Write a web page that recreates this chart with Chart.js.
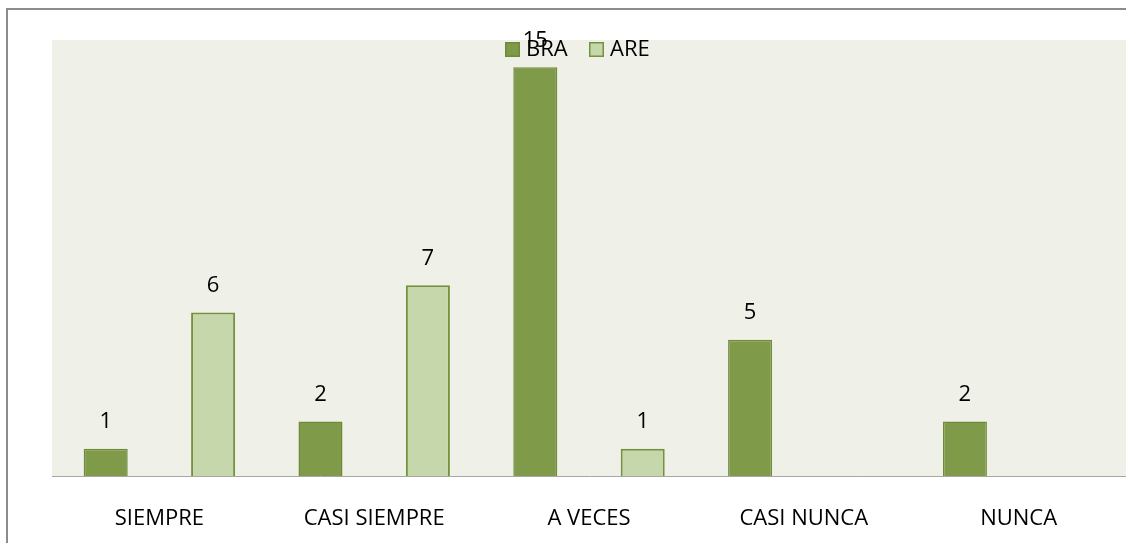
<!DOCTYPE html>
<html><head><meta charset="utf-8">
<script src="https://cdn.jsdelivr.net/npm/chart.js@4"></script>
<style>html,body{margin:0;padding:0;background:#fff;}#wrap{width:1126px;height:543px;position:relative;}</style>
</head><body><div id="wrap"><canvas id="c" width="1126" height="543"></canvas></div>
<script>
const categories = ["SIEMPRE", "CASI SIEMPRE", "A VECES", "CASI NUNCA", "NUNCA"];
const braValues = [1, 2, 15, 5, 2];
const areValues = [6, 7, 1, null, null];
const seriesNames = ["BRA", "ARE"];

const FONT = {family: "'Open Sans', sans-serif", size: 22};
const COL_BRA = "#7F9A48", COL_BRA_B = "#6F8A3B";
const COL_ARE = "#C6D7AB", COL_ARE_B = "#76913E";

const deco = {
  id: 'deco',
  beforeDraw(chart) {
    const {ctx, chartArea: a} = chart;
    ctx.save();
    ctx.fillStyle = '#EFF1E8';
    ctx.fillRect(a.left, a.top, a.right - a.left, a.bottom - a.top);
    ctx.strokeStyle = '#8C8C8C';
    ctx.lineWidth = 2;
    ctx.beginPath();
    ctx.moveTo(7, 543); ctx.lineTo(7, 9); ctx.lineTo(1126, 9);
    ctx.stroke();
    ctx.restore();
  },
  afterDatasetsDraw(chart) {
    const {ctx} = chart;
    ctx.save();
    ctx.font = `${FONT.size}px ${FONT.family}`;
    ctx.fillStyle = '#000';
    ctx.textAlign = 'center';
    ctx.textBaseline = 'middle';
    chart.data.datasets.forEach((ds, i) => {
      chart.getDatasetMeta(i).data.forEach((bar, j) => {
        const v = ds.data[j];
        if (v === null || v === undefined) return;
        ctx.fillText(String(v), bar.x, bar.y - 27);
      });
    });
    // legend
    const items = [[COL_BRA, COL_BRA_B, seriesNames[0], 505], [COL_ARE, COL_ARE_B, seriesNames[1], 589]];
    ctx.textAlign = 'left';
    items.forEach(([f, b, t, x]) => {
      ctx.fillStyle = f; ctx.fillRect(x, 42, 15, 15);
      ctx.strokeStyle = b; ctx.lineWidth = 1.5; ctx.strokeRect(x + 0.75, 42.75, 13.5, 13.5);
      ctx.fillStyle = '#000'; ctx.fillText(t, x + 21, 50);
    });
    ctx.restore();
  }
};

new Chart(document.getElementById('c'), {
  type: 'bar',
  data: {
    labels: categories,
    datasets: [
      {label: seriesNames[0], data: braValues, backgroundColor: COL_BRA, borderColor: COL_BRA_B, borderWidth: 1.5},
      {label: seriesNames[1], data: areValues, backgroundColor: COL_ARE, borderColor: COL_ARE_B, borderWidth: 2}
    ]
  },
  options: {
    responsive: false,
    animation: false,
    devicePixelRatio: 1,
    layout: {padding: {left: 52, top: 40, right: 0, bottom: 0}},
    datasets: {bar: {categoryPercentage: 1.0, barPercentage: 0.41}},
    plugins: {legend: {display: false}, tooltip: {enabled: false}},
    scales: {
      x: {
        grid: {display: false, drawTicks: false},
        border: {display: true, color: '#A6A6A6', width: 1},
        ticks: {font: FONT, color: '#000', padding: 30},
        afterFit(s) { s.height = 67; }
      },
      y: {display: false, min: 0, max: 16}
    }
  },
  plugins: [deco]
});
</script></body></html>
